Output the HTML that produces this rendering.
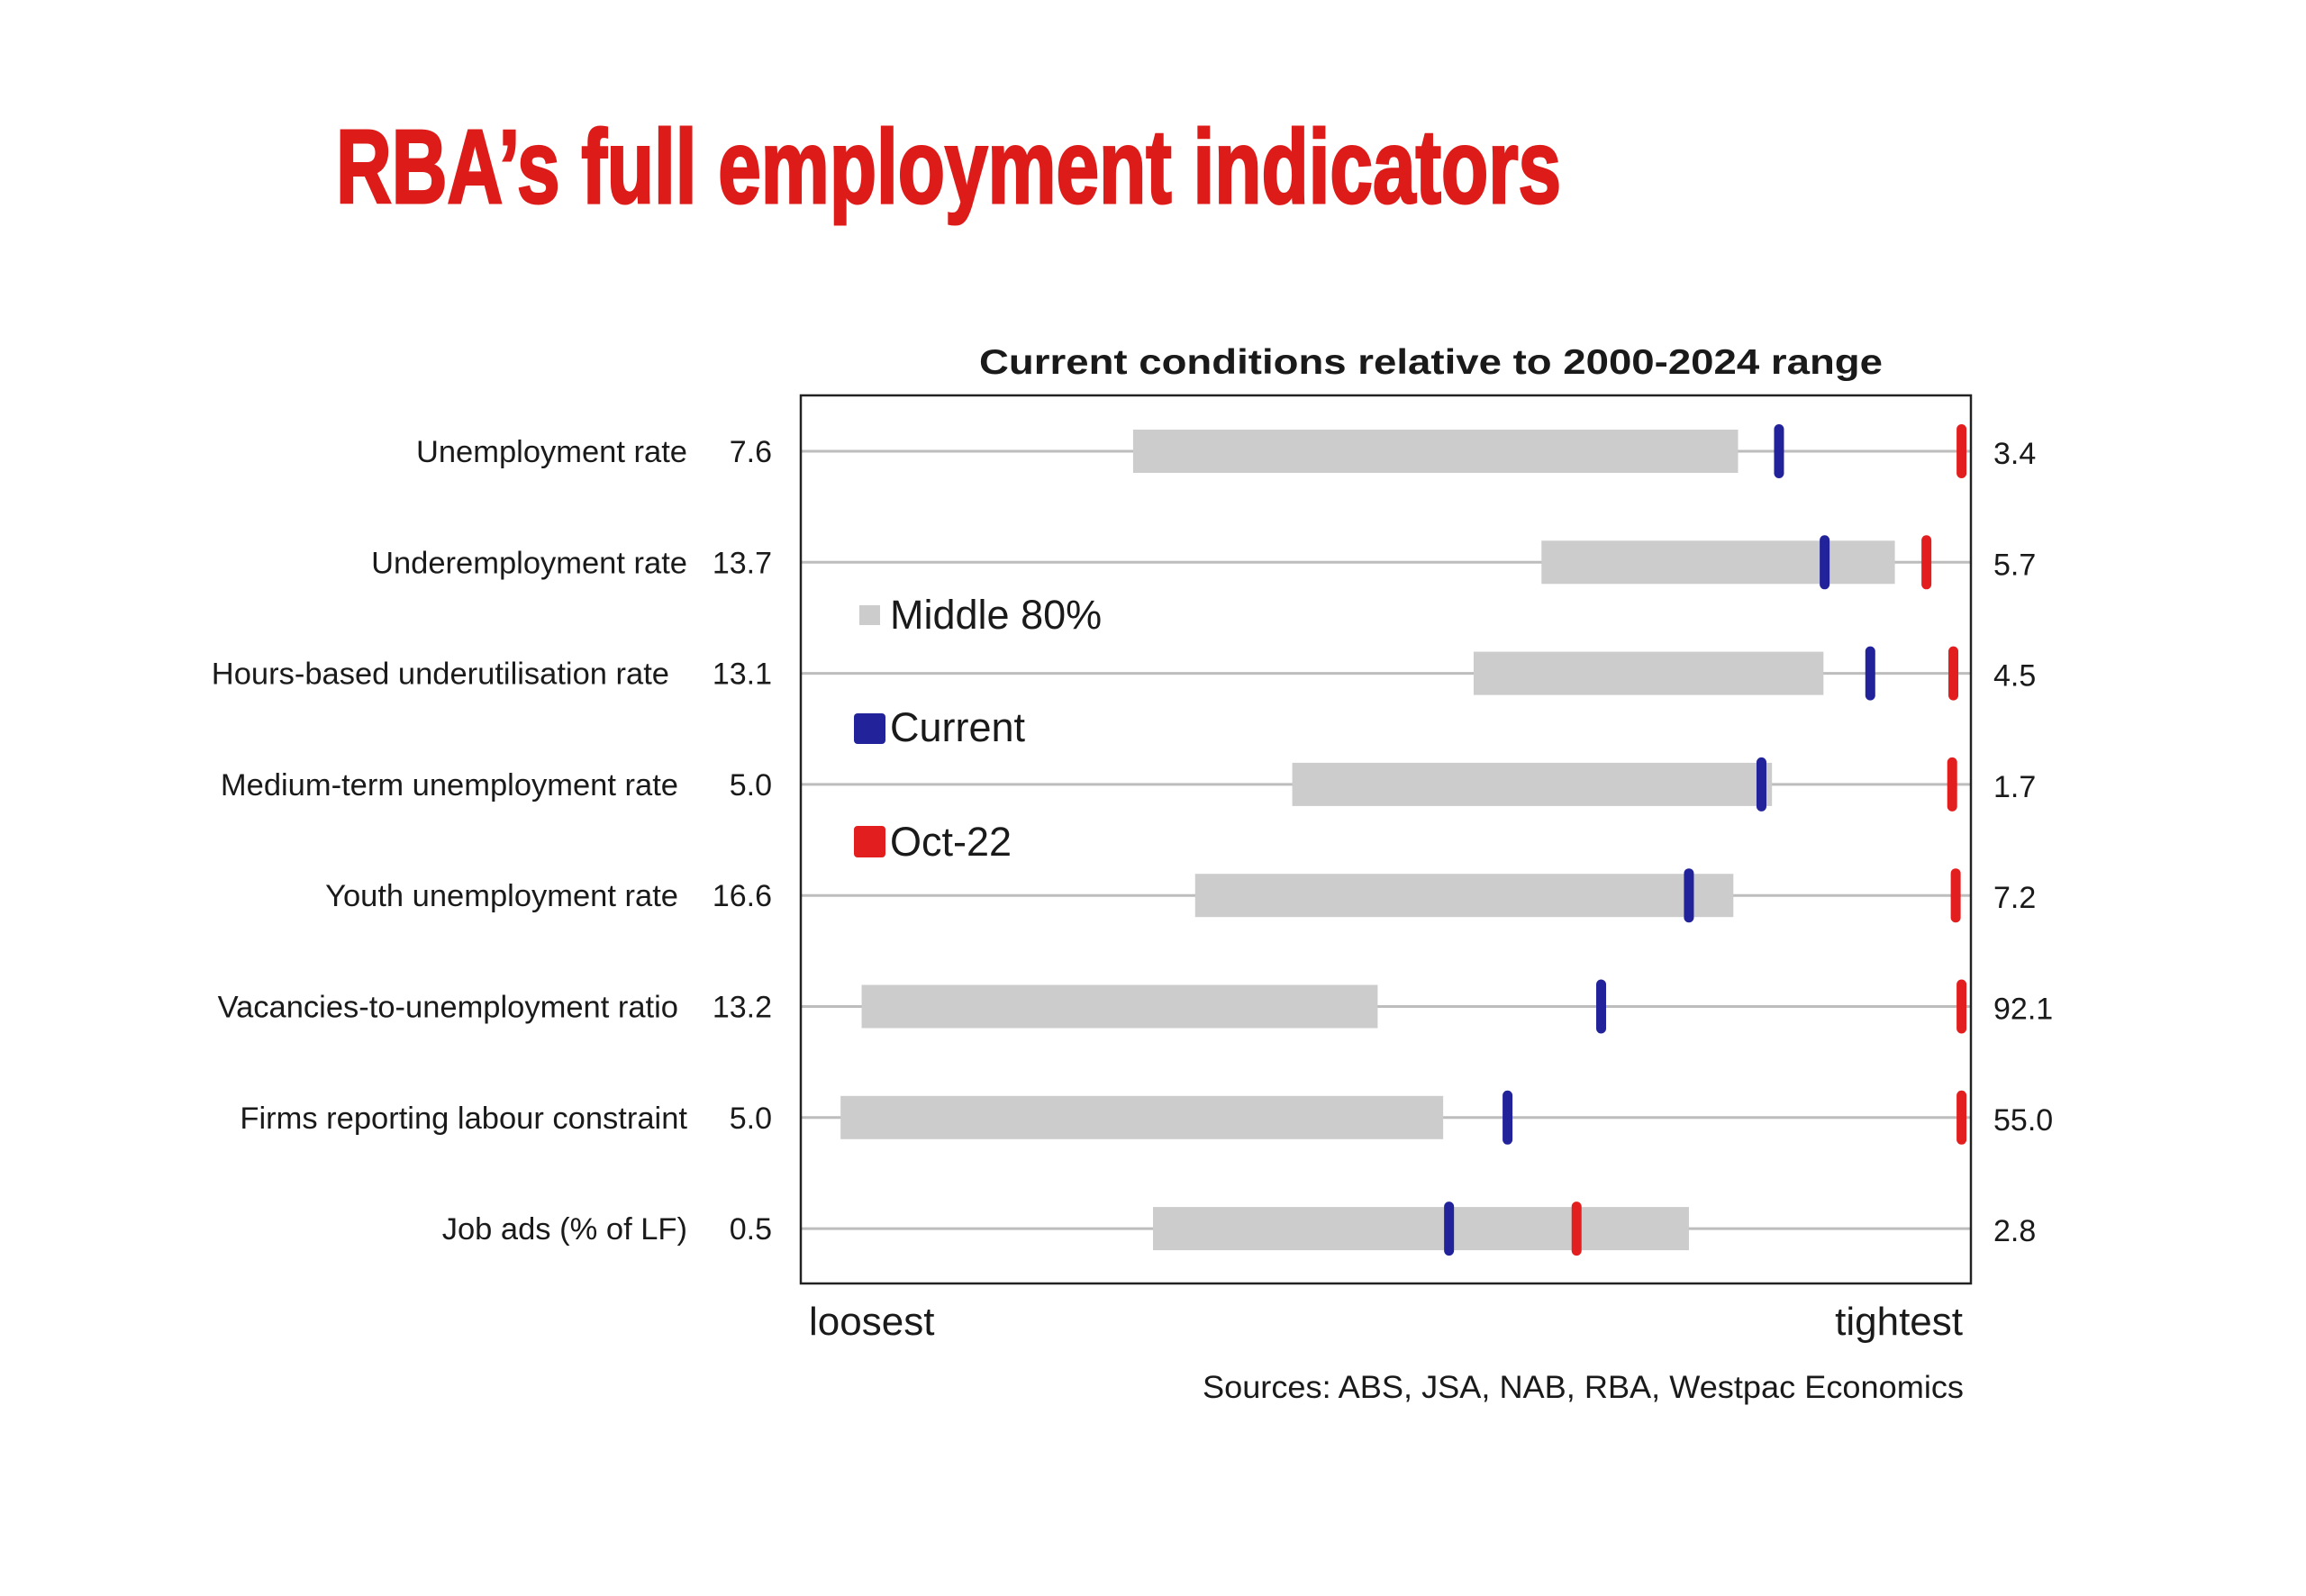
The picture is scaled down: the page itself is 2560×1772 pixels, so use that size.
<!DOCTYPE html>
<html><head><meta charset="utf-8"><style>
html,body{margin:0;padding:0;background:#fff;}
svg{display:block;}
text{font-family:"Liberation Sans",Arial,sans-serif;fill:#1a1a1a;}
</style></head><body>
<svg id="chart" width="2560" height="1772" viewBox="0 0 2560 1772" xmlns="http://www.w3.org/2000/svg">
<text x="373" y="225" font-size="116" font-weight="bold" textLength="1360" lengthAdjust="spacingAndGlyphs" style="fill:#dd1c1a;stroke:#dd1c1a;stroke-width:3">RBA’s full employment indicators</text>
<text x="1087" y="415" font-size="39" font-weight="bold" textLength="1003" lengthAdjust="spacingAndGlyphs">Current conditions relative to 2000-2024 range</text>
<g id="rows"></g>
<rect x="889" y="439" width="1299" height="986" fill="none" stroke="#222" stroke-width="2.5"/>
<g>
<rect x="954" y="672" width="23" height="22" fill="#cccccc"/>
<text x="988" y="698" font-size="45">Middle 80%</text>
<rect x="948" y="792" width="35" height="34" rx="4" fill="#22239a"/>
<text x="988" y="823" font-size="45">Current</text>
<rect x="948" y="917" width="35" height="35" rx="4" fill="#e31e1e"/>
<text x="988" y="950" font-size="45">Oct-22</text>
</g>
<text x="898" y="1482" font-size="44">loosest</text>
<text x="2179" y="1482" font-size="44" text-anchor="end">tightest</text>
<text x="1335" y="1552" font-size="35" textLength="845" lengthAdjust="spacingAndGlyphs">Sources: ABS, JSA, NAB, RBA, Westpac Economics</text>
</svg>
<script>
const categories = ["Unemployment rate","Underemployment rate","Hours-based underutilisation rate","Medium-term unemployment rate","Youth unemployment rate","Vacancies-to-unemployment ratio","Firms reporting labour constraint","Job ads (% of LF)"];
const loosestValues = ["7.6","13.7","13.1","5.0","16.6","13.2","5.0","0.5"];
const tightestValues = ["3.4","5.7","4.5","1.7","7.2","92.1","55.0","2.8"];
const bandLow = [28.4,63.3,57.5,42.0,33.7,5.2,3.4,30.1];
const bandHigh = [80.1,93.5,87.4,83.0,79.7,49.3,54.9,75.9];
const currentPos = [83.6,87.5,91.4,82.1,75.9,68.4,60.4,55.4];
const oct22Pos = [99.2,96.2,98.5,98.4,98.7,99.2,99.2,66.3];

const X0=889, X1=2188, Y0=501, ROW=123.3;
function xScale(v){return X0 + v/100*(X1-X0);}
function yScale(i){return Y0 + i*ROW;}
const NS="http://www.w3.org/2000/svg";
const g=document.getElementById('rows');
const labelRight=[763,763,743,753,753,753,763,763];
function mk(tag,attrs){const e=document.createElementNS(NS,tag);for(const k in attrs)e.setAttribute(k,attrs[k]);g.appendChild(e);return e;}
categories.forEach((c,i)=>{
  const y=yScale(i);
  const ln=mk('line',{x1:X0,x2:X1,y1:y,y2:y,stroke:'#bdbdbd','stroke-width':3});
  
  
  const b=mk('rect',{x:xScale(bandLow[i]),y:y-24,width:xScale(bandHigh[i])-xScale(bandLow[i]),height:48,fill:'#cccccc'});
  
  
  const cm=mk('rect',{x:xScale(currentPos[i])-5.5,y:y-30,width:11,height:60,rx:5.5,fill:'#22239a'});
  
  
  const om=mk('rect',{x:xScale(oct22Pos[i])-5.5,y:y-30,width:11,height:60,rx:5.5,fill:'#e31e1e'});
  
  
  const t=mk('text',{x:labelRight[i],y:y+12,'font-size':34.5,'text-anchor':'end'});
  t.textContent=c;
  
  
  const lv=mk('text',{x:857,y:y+12,'font-size':34,'text-anchor':'end'});
  lv.textContent=loosestValues[i];
  
  
  const tv=mk('text',{x:2213,y:y+14,'font-size':34});
  tv.textContent=tightestValues[i];
  
  
});
</script>
</body></html>
